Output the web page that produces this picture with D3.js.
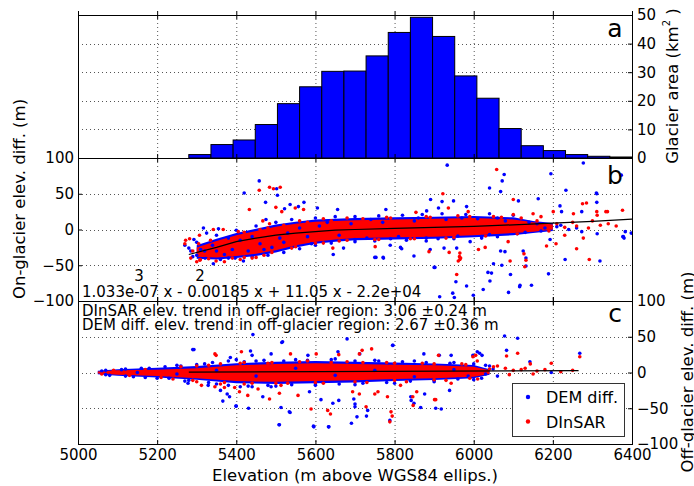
<!DOCTYPE html>
<html>
<head>
<meta charset="utf-8">
<script src="https://cdn.jsdelivr.net/npm/d3@7"></script>
<style>
body { margin: 0; background: #fff; }
text { font-family: "DejaVu Sans", sans-serif; fill: #000; }
</style>
</head>
<body>
<svg id="chart"></svg>
<script>
const width = 694;
const height = 486;

//---- data ----
// x ticks (elevation, m)
const xTicks = [5000, 5200, 5400, 5600, 5800, 6000, 6200, 6400];
const areaTicks = [0, 10, 20, 30, 40, 50];
const diffTicks = [-100, -50, 0, 50, 100];

// panel a: glacier area histogram (km2), bin edges and heights
const binEdges = [5280, 5336, 5392, 5448, 5504, 5560, 5616, 5672, 5728, 5784, 5840,
    5896, 5952, 6008, 6064, 6120, 6176, 6232, 6288, 6344, 6400];
const glacierArea = [1.2, 4.7, 6.3, 11.7, 19.0, 24.9, 30.3, 30.4, 35.7, 43.9,
    49.2, 42.5, 28.7, 20.9, 10.3, 4.3, 2.6, 1.2, 0.6, 0.35];

// panel b: cubic fit on glacier
const fitElev = [5280, 5350, 5400, 5450, 5500, 5550, 5600, 5650, 5700, 5800, 5900, 6000, 6100, 6200, 6300, 6400];
const fitVal = [-35, -25, -17, -12, -8, -5, -3, -1, 0, 1.5, 3, 4.5, 6.5, 9, 11.5, 14.5];

// panel b: dense part of the point clouds (lower / upper edge)
const bandBElev = [5300, 5350, 5400, 5450, 5500, 5550, 5600, 5650, 5700, 5800, 5900, 6000, 6100, 6150, 6200];
const bandBRedLo = [-38, -39, -37, -34, -29, -22, -17, -14, -12, -11, -10, -8, -5, -3, 0];
const bandBRedHi = [-25, -16, -8, -2, 4, 8, 11, 12, 13, 14, 15, 16, 14, 10, 7];
const bandBBlueLo = [-41, -42, -40, -37, -32, -25, -20, -17, -15, -14, -13, -11, -8, -5, -2];
const bandBBlueHi = [-22, -13, -5, 1, 7, 11, 14, 15, 16, 17, 18, 19, 17, 12, 9];

// panel b: scattered DEM diff. points [elevation, diff]
const bBlue = [[5458, 68], [5420, 51], [5502, 57], [5504, 48], [5474, 38], [5522, 29], [5536, 35],
    [5557, 32], [5571, 38], [5605, 30], [5475, 14], [5317, 2], [5293, -14], [5325, -5], [5355, 1],
    [5342, -48], [5321, -40], [5397, -40], [5418, -44], [5270, -22], [5285, -30],
    [5933, 90], [5891, 42], [5920, 39], [5949, 40], [5656, 28], [5778, 28], [5881, 26], [5911, 30],
    [5982, 32], [5645, -35], [5671, -26], [5789, -22], [5815, -25], [5753, -39], [5772, -40],
    [5849, -37], [5890, -28], [5902, -53], [5925, -26], [5957, -26], [5955, -73], [5982, -79],
    [5947, -89], [5999, -92], [5991, -17],
    [6077, 77], [6072, 68], [6040, 58], [6068, 53], [6113, 40], [6163, 43], [6195, 78], [6277, 93],
    [6233, 55], [6218, 33], [6222, 25], [6273, 25], [6311, 50], [6311, 38], [6383, -3], [6378, -10],
    [6380, -12], [6398, -5], [6273, -3], [6312, -6], [6319, -44], [6231, -42], [6193, -14], [6189, -62],
    [6146, -78], [6117, -78], [6088, -88], [6093, -63], [6045, -61], [6041, -72], [6024, -84],
    [6068, -30], [6079, -31], [6050, -48], [6071, -50], [6125, -30], [6132, -40], [6132, -51],
    [6373, 76], [6310, 51], [6377, -10], [6116, -80], [5914, -94], [5951, -95], [6036, -60],
    [5750, -39], [5771, -39], [5818, -27], [5900, -53],
    [5360, -42], [5380, -40], [5440, -38], [5480, -36], [5520, -32], [5560, -27], [5600, -22],
    [5640, -19], [5700, -17], [5750, -16], [5830, -15], [5880, -16], [5950, -13], [6020, -12],
    [6060, -10], [5600, 16], [5650, 18], [5700, 18], [5760, 19], [5820, 20], [5870, 21], [5920, 22],
    [5980, 21], [6040, 22], [6100, 20], [5540, 14], [5500, 10], [5450, 5], [5400, -1], [5350, -8],
    [5300, -36], [5320, -30], [5340, -22], [5370, -35], [5390, -28], [5410, -15], [5430, -30],
    [5460, -20], [5490, -25], [5510, -12], [5530, -5], [5580, -10], [5610, 5], [5660, -8], [5690, 8],
    [5730, -12], [5770, 10], [5810, -10], [5850, 12], [5880, -12], [5930, 14], [5960, -9], [6010, 15],
    [6040, -7], [6080, 12], [6130, -4], [6160, 8], [6180, 2], [6210, 4], [6240, 0], [5280, -26],
    [5300, -18], [5310, -28], [5290, -38], [5350, -30], [5380, -12], [5440, -10], [5470, -28],
    [5520, -18], [5560, 2], [5590, -20], [5630, 10], [5700, -14], [5740, 14], [5790, -13], [5860, 16],
    [5910, -13], [5970, 16], [6020, -10], [6060, 16], [6110, -6], [6140, 10], [6170, -2], [6220, 6],
    [6260, 2]];

// panel b: scattered DInSAR points
const bRed = [[5458, 55], [5484, 59], [5494, 57], [5511, 59], [5433, 28], [5500, 31], [5515, 25],
    [5549, 30], [5570, 28], [5467, 12], [5484, 8], [5282, -13], [5307, -8], [5342, 0], [5367, 0],
    [5309, -42], [5349, -44], [5308, -43], [5272, -15],
    [5922, 50], [5936, 30], [5986, 25], [5854, 24], [5644, -26], [5751, -24], [5887, -31],
    [5938, -32], [5964, -38], [5961, -44], [5967, -40], [5957, -63], [6012, -28],
    [6058, 84], [6100, 42], [6201, 25], [6252, 22], [6285, 37], [6311, 25], [6334, 25], [6376, 27],
    [6277, -12], [6260, -27], [6292, -42], [6208, -20], [6184, -23], [6092, -44], [6127, -34],
    [6029, -25], [6100, 21], [6150, 22], [6170, 18], [6250, 10], [6300, 12], [6340, 8], [6360, 5],
    [6230, -8], [6275, 36], [6312, 20], [6338, 25], [6132, -43], [6129, -52], [6087, -17],
    [5965, -33], [5965, -42],
    [5330, -41], [5420, -39], [5470, -36], [5540, -26], [5620, -19], [5680, -15], [5760, -14],
    [5850, -13], [5950, -11], [5560, 12], [5620, 15], [5680, 16], [5780, 17], [5880, 18],
    [5960, 19], [6050, 18], [6120, 16], [5420, -4], [5480, 2],
    [5290, -30], [5305, -20], [5320, -36], [5335, -15], [5360, -28], [5390, -40], [5405, -3],
    [5440, -40], [5460, 0], [5490, -32], [5520, 6], [5550, -24], [5580, 10], [5600, -19], [5640, 12],
    [5660, -16], [5720, 15], [5750, -14], [5790, 16], [5840, -13], [5890, 17], [5930, -12], [5990, 18],
    [6030, -9], [6070, 17], [6110, -6], [6160, 12], [6190, -2], [6210, 8], [6230, 3], [6260, 5],
    [6290, 2], [6320, 6], [5270, -20], [5285, -40], [5300, -45], [5370, -45], [5410, -42], [5450, -39]];

// panel c: linear trend off glacier
const trendElev = [5280, 6265];
const trendVal = [0.5, 2.5];

// panel c: dense part of the point clouds
const bandCElev = [5050, 5100, 5200, 5300, 5400, 5500, 5600, 5700, 5800, 5900, 6000, 6040];
const bandCRedLo = [-1.5, -3, -5, -8, -12, -13, -12, -11, -9, -8, -6, -2];
const bandCRedHi = [1.5, 3, 4, 6, 10, 12, 13, 12, 11, 10, 8, 3];
const bandCBlueLo = [-2.5, -4.5, -7, -10, -15, -16, -15, -14, -12, -10.5, -8, -3];
const bandCBlueHi = [2.5, 4.5, 6.5, 9, 13, 15, 16, 15, 14, 12.5, 10.5, 4.5];

const cBlue = [[5442, 53], [5293, 32], [5385, 21], [5436, 30], [5440, 24], [5488, 26], [5278, -15],
    [5329, -18], [5360, -25], [5377, -30], [5366, -40], [5383, -34], [5400, -47], [5431, -50],
    [5440, -20], [5467, -34], [5488, -20],
    [5680, 47], [5515, 42], [5581, 24], [5657, 29], [5795, 38], [5874, 26], [5943, 24], [5998, 24],
    [6015, 27], [5513, -49], [5534, -55], [5509, -73], [5585, -27], [5596, -76], [5614, -38],
    [5633, -76], [5644, -43], [5659, -39], [5700, -44], [5697, -37], [5705, -62], [5732, -53],
    [5842, -39], [5849, -43], [5876, -30], [5918, -51], [5939, -25],
    [5517, 43], [5290, 32], [5508, -73], [5595, -75], [5634, -76], [5399, -47], [5536, -56],
    [6078, 51], [6111, 48], [6083, 31], [6142, 15], [6009, 29], [6021, 24], [6268, 27], [6196, 0],
    [6049, 5], [5913, 24], [5712, 26], [5796, 38], [5788, -67], [5841, -34], [5866, -49],
    [5904, -50], [5986, -5], [5700, -48], [5691, -71], [5729, -61],
    [5070, 3], [5120, 5], [5160, 6], [5220, 8], [5260, 9], [5300, 11], [5340, 14], [5380, 16],
    [5420, 15], [5470, 17], [5520, 16], [5580, 17], [5640, 18], [5700, 16], [5760, 16], [5820, 15],
    [5880, 14], [5940, 13], [6000, 12], [6030, 10], [5070, -3], [5120, -5], [5170, -7], [5230, -8],
    [5280, -11], [5330, -14], [5380, -18], [5430, -19], [5480, -18], [5540, -17], [5600, -16],
    [5660, -16], [5720, -15], [5780, -14], [5840, -12], [5900, -11], [5960, -9], [6020, -8],
    [5060, 2], [5080, -4], [5110, 4], [5140, -6], [5180, 6], [5200, -8], [5250, 10], [5270, -12],
    [5320, 12], [5350, -16], [5400, 18], [5410, -20], [5450, 16], [5500, -19], [5550, 18],
    [5600, -18], [5650, 19], [5700, -17], [5750, 17], [5800, -15], [5850, 16], [5900, -13],
    [5950, 14], [6000, -10], [6040, 9], [6060, -5], [5150, 0], [5250, -2], [5350, 3], [5450, -5],
    [5550, 6], [5650, -4], [5750, 3], [5850, -6], [5950, 4], [6030, -2]];

const cRed = [[5349, 24], [5413, 29], [5346, 26], [5312, -18], [5346, -20], [5370, -21], [5396, -21],
    [5408, -27], [5429, -32], [5455, -23], [5484, -37],
    [5537, 26], [5602, 26], [5659, 25], [5711, 26], [5718, 31], [5742, 33], [5911, 24], [5998, 22],
    [5513, -18], [5509, -29], [5556, -32], [5589, -51], [5631, -53], [5638, -58], [5694, -27],
    [5711, -30], [5728, -48], [5758, -27], [5791, -55], [5794, -61], [5815, -18], [5846, -34],
    [5901, -38], [5943, -15],
    [6111, 27], [6083, 23], [6143, 12], [6005, 24], [6009, 16], [6196, 13], [6268, 22], [6040, 5],
    [5782, -34], [5788, -69], [5847, -46], [5856, -27], [5904, -38], [5750, -30],
    [5240, -9], [5300, -13], [5360, -16], [5420, -16], [5500, -15], [5600, -14], [5700, -13],
    [5800, -11], [5900, -10], [5990, -8], [5300, 9], [5360, 12], [5420, 14], [5480, 13], [5560, 15],
    [5640, 14], [5720, 14], [5800, 13], [5900, 12], [5980, 11], [6050, 8], [6080, 6], [6100, 3],
    [6120, 4], [6160, 2],
    [5060, -2], [5090, 3], [5130, -4], [5170, 4], [5210, -7], [5260, 8], [5290, -11], [5330, 10],
    [5370, -14], [5410, 13], [5440, -15], [5490, 14], [5530, -15], [5580, 16], [5620, -15],
    [5680, 15], [5730, -14], [5780, 14], [5830, -13], [5870, 13], [5930, -11], [5970, 12],
    [6010, -9], [6060, 9], [6090, -3], [6130, 6], [6150, -2], [6180, 4], [6220, 1], [6250, 3]];

const legendLabels = ['DEM diff.', 'DInSAR'];
const legendColors = ['#0000ff', '#ff0000'];

//---- layout ----
const plotLeft = 78, plotRight = 632;
const panels = { a: [15, 158], b: [158, 301], c: [301, 444] };

const x = d3.scaleLinear().domain([5000, 6400]).range([plotLeft, plotRight]);
const yA = d3.scaleLinear().domain([0, 50]).range([panels.a[1], panels.a[0]]);
const yB = d3.scaleLinear().domain([-100, 100]).range([panels.b[1], panels.b[0]]);
const yC = d3.scaleLinear().domain([-100, 100]).range([panels.c[1], panels.c[0]]);

const svg = d3.select('svg#chart').attr('width', width).attr('height', height);
svg.append('rect').attr('width', width).attr('height', height).attr('fill', '#fff');

// clip paths for the three panels
const defs = svg.append('defs');
Object.entries(panels).forEach(([k, p]) => {
    defs.append('clipPath').attr('id', 'clip-' + k)
        .append('rect')
        .attr('x', plotLeft).attr('y', p[0])
        .attr('width', plotRight - plotLeft).attr('height', p[1] - p[0]);
});

// dotted grid
function grid(y, yVals, p) {
    const g = svg.append('g').attr('stroke', '#555').attr('stroke-dasharray', '1,3').attr('stroke-width', 1);
    g.selectAll('line.v').data(xTicks.slice(1, -1)).enter().append('line')
        .attr('x1', d => x(d) + 0.5).attr('x2', d => x(d) + 0.5)
        .attr('y1', p[0]).attr('y2', p[1]);
    g.selectAll('line.h').data(yVals).enter().append('line')
        .attr('x1', plotLeft).attr('x2', plotRight)
        .attr('y1', d => Math.round(y(d)) + 0.5).attr('y2', d => Math.round(y(d)) + 0.5);
}
grid(yA, [10, 20, 30, 40], panels.a);
grid(yB, [-50, 0, 50], panels.b);
grid(yC, [-50, 0, 50], panels.c);

//---- panel a: histogram ----
svg.append('g').selectAll('rect')
    .data(glacierArea).enter().append('rect')
    .attr('x', (d, i) => x(binEdges[i]))
    .attr('width', (d, i) => x(binEdges[i + 1]) - x(binEdges[i]))
    .attr('y', d => yA(d))
    .attr('height', d => yA(0) - yA(d))
    .attr('fill', '#0000ff')
    .attr('stroke', '#000')
    .attr('stroke-width', 1);

// draws a cloud: blue band, blue points, red band, red points
function cloud(y, key, elev, blueLo, blueHi, redLo, redHi, blues, reds) {
    const g = svg.append('g').attr('clip-path', 'url(#clip-' + key + ')');
    const band = (lo, hi) => d3.area()
        .x((d, i) => x(elev[i]))
        .y0((d, i) => y(lo[i]))
        .y1((d, i) => y(hi[i]));
    g.append('path').datum(elev).attr('d', band(blueLo, blueHi)).attr('fill', '#0000ff');
    g.append('path').datum(elev).attr('d', band(redLo, redHi)).attr('fill', '#ff0000');
    g.selectAll('circle.b').data(blues).enter().append('circle')
        .attr('cx', d => x(d[0])).attr('cy', d => y(d[1])).attr('r', 1.8).attr('fill', '#0000ff');
    g.selectAll('circle.r').data(reds).enter().append('circle')
        .attr('cx', d => x(d[0])).attr('cy', d => y(d[1])).attr('r', 1.8).attr('fill', '#ff0000');
    return g;
}

//---- panel b ----
const gB = cloud(yB, 'b', bandBElev, bandBBlueLo, bandBBlueHi, bandBRedLo, bandBRedHi, bBlue, bRed);
gB.append('path').datum(fitElev)
    .attr('d', d3.line().x(d => x(d)).y((d, i) => yB(fitVal[i])))
    .attr('fill', 'none').attr('stroke', '#000').attr('stroke-width', 1.2);

//---- panel c ----
const gC = cloud(yC, 'c', bandCElev, bandCBlueLo, bandCBlueHi, bandCRedLo, bandCRedHi, cBlue, cRed);
gC.append('path').datum(trendElev)
    .attr('d', d3.line().x(d => x(d)).y((d, i) => yC(trendVal[i])))
    .attr('fill', 'none').attr('stroke', '#000').attr('stroke-width', 1.2);

//---- frames ----
Object.values(panels).forEach(p => {
    svg.append('rect')
        .attr('x', plotLeft + 0.5).attr('y', p[0] + 0.5)
        .attr('width', plotRight - plotLeft).attr('height', p[1] - p[0])
        .attr('fill', 'none').attr('stroke', '#000').attr('stroke-width', 1);
});

//---- axes (inward ticks) ----
function styleAxis(g) {
    g.select('.domain').remove();
    g.selectAll('text').attr('font-size', 15).attr('font-family', '"DejaVu Sans", sans-serif');
    g.selectAll('.tick line').attr('stroke', '#000');
}
// bottom axis with labels
svg.append('g').attr('transform', `translate(0,${panels.c[1]})`)
    .call(d3.axisBottom(x).tickValues(xTicks).tickFormat(d3.format('d')).tickSize(-4).tickPadding(5))
    .call(styleAxis);
// inner x ticks (no labels)
[panels.a[0], panels.a[1], panels.b[1], panels.c[0]].forEach(yy => {
    svg.append('g').attr('transform', `translate(0,${yy})`)
        .call(d3.axisBottom(x).tickValues(xTicks).tickFormat('').tickSize(-4))
        .call(styleAxis);
    svg.append('g').attr('transform', `translate(0,${yy})`)
        .call(d3.axisTop(x).tickValues(xTicks).tickFormat('').tickSize(-4))
        .call(styleAxis);
});
// left axis of panel b
svg.append('g').attr('transform', `translate(${plotLeft},0)`)
    .call(d3.axisLeft(yB).tickValues(diffTicks).tickSize(-4).tickPadding(4))
    .call(styleAxis);
// right axis of panel a
svg.append('g').attr('transform', `translate(${plotRight},0)`)
    .call(d3.axisRight(yA).tickValues(areaTicks).tickSize(-4).tickPadding(5))
    .call(styleAxis);
// right axis of panel c
svg.append('g').attr('transform', `translate(${plotRight},0)`)
    .call(d3.axisRight(yC).tickValues(diffTicks).tickSize(-4).tickPadding(5))
    .call(styleAxis);

//---- axis titles ----
svg.append('text')
    .attr('x', 355).attr('y', 481)
    .attr('text-anchor', 'middle').attr('font-size', 16.5)
    .text('Elevation (m above WGS84 ellips.)');
svg.append('text')
    .attr('transform', 'translate(25,199) rotate(-90)')
    .attr('text-anchor', 'middle').attr('font-size', 16.5)
    .text('On-glacier elev. diff. (m)');
const glacierLabel = svg.append('text')
    .attr('transform', 'translate(678,86) rotate(-90)')
    .attr('text-anchor', 'middle').attr('font-size', 16.5);
glacierLabel.append('tspan').text('Glacier area (km');
glacierLabel.append('tspan').attr('font-size', 10).attr('dy', -8).text('2');
glacierLabel.append('tspan').attr('dy', 8).text(' )');
svg.append('text')
    .attr('transform', 'translate(693,372) rotate(-90)')
    .attr('text-anchor', 'middle').attr('font-size', 16.5)
    .text('Off-glacier elev. diff. (m)');

//---- panel letters ----
[['a', 37], ['b', 184], ['c', 322]].forEach(([t, yy]) => {
    svg.append('text').attr('x', 615).attr('y', yy)
        .attr('text-anchor', 'middle').attr('font-size', 25).text(t);
});

//---- annotations ----
svg.append('text').attr('x', 139).attr('y', 281).attr('text-anchor', 'middle').attr('font-size', 15).text('3');
svg.append('text').attr('x', 200).attr('y', 281).attr('text-anchor', 'middle').attr('font-size', 15).text('2');
svg.append('text').attr('x', 82).attr('y', 297).attr('font-size', 15)
    .text('1.033e-07 x - 0.00185 x + 11.05 x - 2.2e+04');
svg.append('text').attr('x', 82).attr('y', 316).attr('font-size', 15)
    .text('DInSAR elev. trend in off-glacier region: 3.06 \u00b10.24 m');
svg.append('text').attr('x', 82).attr('y', 330).attr('font-size', 15)
    .text('DEM diff. elev. trend in off-glacier region: 2.67 \u00b10.36 m');

//---- legend ----
const legend = svg.append('g');
legend.append('rect')
    .attr('x', 512.5).attr('y', 383.5).attr('width', 112).attr('height', 53)
    .attr('fill', '#fff').attr('stroke', '#333').attr('stroke-width', 1);
legendLabels.forEach((t, i) => {
    legend.append('circle').attr('cx', 528).attr('cy', 397 + i * 24.5).attr('r', 2.2).attr('fill', legendColors[i]);
    legend.append('text').attr('x', 546).attr('y', 403 + i * 24.5).attr('font-size', 16).text(t);
});
</script>
</body>
</html>
